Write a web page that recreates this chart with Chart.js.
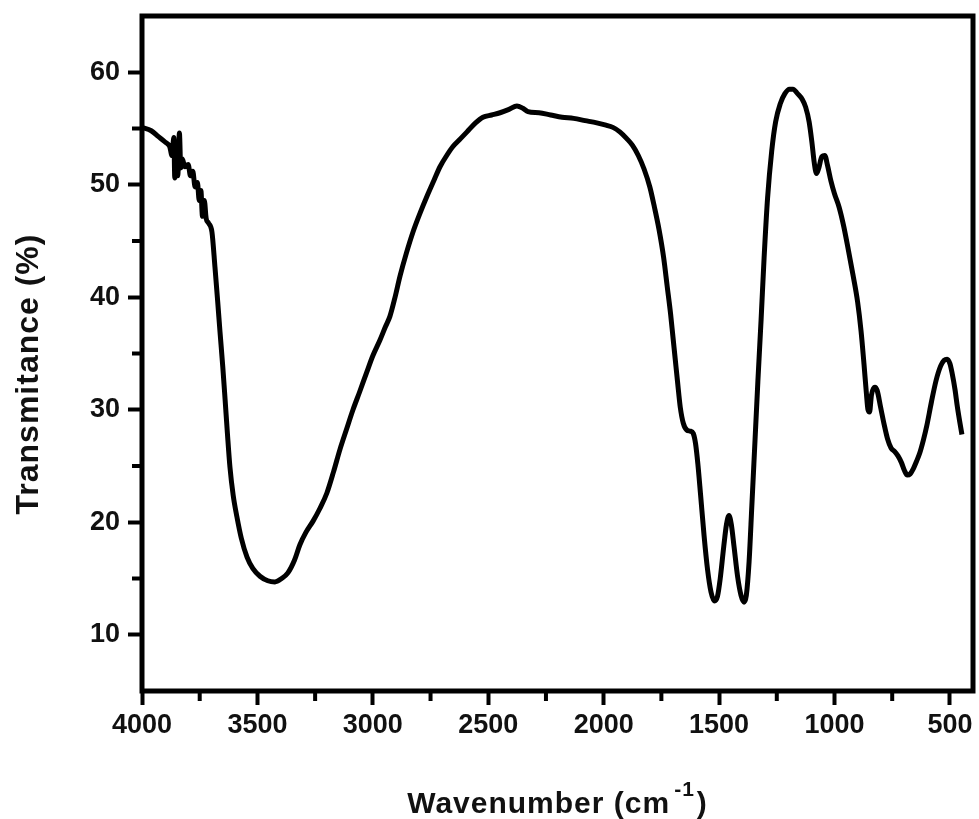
<!DOCTYPE html>
<html>
<head>
<meta charset="utf-8">
<script src="https://cdn.jsdelivr.net/npm/chart.js@4"></script>
<style>
  body { margin: 0; background: #fff; }
  #wrap { width: 979px; height: 819px; }
</style>
</head>
<body>
<div id="wrap"><canvas id="ftir" width="979" height="819"></canvas></div>
<script>
// FTIR spectrum
const wavenumber = [
  4000, 3960, 3930, 3900, 3880, 3870, 3862, 3858, 3852, 3845, 3838, 3832, 3825, 3815, 3800,
  3790, 3780, 3770, 3760, 3752, 3745, 3738, 3730, 3722, 3712, 3697, 3684, 3672, 3662, 3650,
  3640, 3630, 3619, 3605, 3589, 3570, 3545, 3520, 3489, 3455, 3424, 3395, 3368, 3340, 3316,
  3290, 3259, 3230, 3199, 3170, 3142, 3115, 3086, 3057, 3027, 3000, 2969, 2945, 2926, 2905,
  2882, 2855, 2826, 2795, 2765, 2735, 2709, 2680, 2653, 2620, 2592, 2555, 2523, 2485, 2449,
  2410, 2376, 2350, 2328, 2280, 2230, 2180, 2130, 2080, 2030, 1990, 1960, 1930, 1900, 1875,
  1850, 1825, 1800, 1780, 1760, 1740, 1725, 1710, 1700, 1690, 1680, 1668, 1655, 1640, 1625,
  1612, 1602, 1592, 1580, 1565, 1550, 1535, 1520, 1507, 1495, 1480, 1468, 1457, 1447, 1435,
  1420, 1405, 1392, 1382, 1370, 1358, 1345, 1332, 1318, 1305, 1290, 1272, 1255, 1235, 1215,
  1195, 1180, 1160, 1140, 1125, 1110, 1098, 1088, 1078, 1068, 1055, 1042, 1030, 1015, 1000,
  980, 960, 940, 920, 900, 885, 872, 862, 855, 848, 840, 825, 815, 800, 785,
  770, 755, 740, 725, 710, 697, 685, 672, 660, 645, 630, 615, 600, 580, 560,
  540, 525, 512, 500, 490, 478, 468, 458, 448
];
const transmittance = [
  55.1, 54.8, 54.3, 53.8, 53.4, 52.6, 54.2, 50.6, 53.5, 50.8, 54.6, 51.5, 52.3, 51.6, 51.8,
  50.8, 51.2, 49.8, 50.2, 48.6, 49.5, 47.2, 48.6, 47.0, 46.6, 45.8, 42.7, 39.6, 36.9, 33.8,
  30.9, 27.9, 24.9, 22.4, 20.5, 18.6, 16.9, 15.9, 15.2, 14.8, 14.7, 15.0, 15.5, 16.6, 18.0,
  19.1, 20.1, 21.2, 22.6, 24.5, 26.5, 28.2, 30.0, 31.6, 33.3, 34.8, 36.2, 37.4, 38.3, 39.9,
  41.9, 43.9, 45.8, 47.5, 49.0, 50.4, 51.6, 52.6, 53.4, 54.1, 54.7, 55.5, 56.0, 56.2, 56.4,
  56.7, 57.0, 56.8, 56.5, 56.4, 56.2, 56.0, 55.9, 55.7, 55.5, 55.3, 55.1, 54.7, 54.1, 53.5,
  52.6, 51.4, 49.8, 48.0, 46.0, 43.5, 41.0, 38.5, 36.5, 34.5, 32.5, 30.2, 28.8, 28.2, 28.1,
  27.9, 27.0, 25.2, 22.4, 18.8, 15.8, 13.8, 13.0, 13.4, 15.0, 17.8, 19.8, 20.6, 19.8, 17.8,
  15.2, 13.5, 12.9, 13.5, 16.5, 21.5, 27.0, 32.5, 38.0, 43.5, 48.8, 53.0, 55.6, 57.2, 58.1,
  58.5, 58.5, 58.1, 57.6, 56.9, 55.6, 53.8, 52.0, 51.0, 51.5, 52.5, 52.6, 51.7, 50.3, 49.2,
  48.0, 46.3, 44.2, 42.0, 39.6, 37.0, 34.0, 31.5, 30.0, 29.8, 31.3, 32.0, 31.7, 30.2, 28.7,
  27.4, 26.6, 26.3, 25.9, 25.3, 24.6, 24.2, 24.3, 24.7, 25.4, 26.2, 27.3, 28.6, 30.7, 32.6,
  33.9, 34.4, 34.5, 34.1, 33.2, 31.8, 30.3, 29.0, 27.8
];

const xTicks = [4000, 3500, 3000, 2500, 2000, 1500, 1000, 500];
const xMinor = [3750, 3250, 2750, 2250, 1750, 1250, 750];
const yTicks = [10, 20, 30, 40, 50, 60];
const yMinor = [15, 25, 35, 45, 55];

const xTitle = 'Wavenumber (cm';
const xTitleSup = '-1';
const yTitle = 'Transmitance (%)';

const FONT = '"Liberation Sans", Arial, sans-serif';

const points = wavenumber.map((w, i) => ({ x: w, y: transmittance[i] }));

const framePlugin = {
  id: 'frame',
  afterDraw(chart) {
    const { ctx, chartArea: a, scales: { x, y } } = chart;
    ctx.save();
    ctx.strokeStyle = '#000';
    ctx.lineWidth = 5;
    ctx.strokeRect(a.left, a.top, a.right - a.left, a.bottom - a.top);

    // minor ticks
    ctx.lineWidth = 4;
    ctx.beginPath();
    xMinor.forEach(v => {
      const px = x.getPixelForValue(v);
      ctx.moveTo(px, a.bottom);
      ctx.lineTo(px, a.bottom + 10);
    });
    yMinor.forEach(v => {
      const py = y.getPixelForValue(v);
      ctx.moveTo(a.left, py);
      ctx.lineTo(a.left - 10, py);
    });
    ctx.stroke();

    ctx.fillStyle = '#111';
    ctx.letterSpacing = '1px';

    // y title
    ctx.save();
    ctx.translate(29, 374);
    ctx.rotate(-Math.PI / 2);
    ctx.font = 'bold 32px ' + FONT;
    ctx.textAlign = 'center';
    ctx.textBaseline = 'middle';
    ctx.fillText(yTitle, 0, 0);
    ctx.restore();

    // x title with superscript
    const big = 'bold 30px ' + FONT;
    const small = 'bold 21px ' + FONT;
    ctx.textBaseline = 'alphabetic';
    ctx.textAlign = 'left';
    ctx.font = big;
    const w1 = ctx.measureText(xTitle).width;
    const w3 = ctx.measureText(')').width;
    ctx.font = small;
    const w2 = ctx.measureText(xTitleSup).width;
    const total = w1 + 4 + w2 + 2 + w3;
    let cx = (a.left + a.right) / 2 - total / 2;
    const base = 813;
    ctx.font = big;
    ctx.fillText(xTitle, cx, base);
    cx += w1 + 4;
    ctx.font = small;
    ctx.fillText(xTitleSup, cx, base - 17);
    cx += w2 + 2;
    ctx.font = big;
    ctx.fillText(')', cx, base);
    ctx.restore();
  }
};

const tickGrid = {
  drawOnChartArea: false,
  drawTicks: true,
  tickLength: 14,
  tickWidth: 4,
  tickColor: '#000'
};

new Chart(document.getElementById('ftir').getContext('2d'), {
  type: 'line',
  data: {
    datasets: [{
      data: points,
      borderColor: '#000',
      borderWidth: 5,
      pointRadius: 0,
      fill: false,
      cubicInterpolationMode: 'monotone'
    }]
  },
  options: {
    responsive: false,
    animation: false,
    layout: { padding: { top: 16, right: 6, left: 0, bottom: 0 } },
    plugins: {
      legend: { display: false },
      tooltip: { enabled: false }
    },
    scales: {
      x: {
        type: 'linear',
        reverse: true,
        min: 400,
        max: 4000,
        border: { display: false },
        grid: tickGrid,
        afterBuildTicks: s => { s.ticks = xTicks.map(v => ({ value: v })); },
        afterFit: s => { s.height = 128; s.paddingLeft = 0; s.paddingRight = 0; },
        ticks: {
          color: '#111',
          padding: 4,
          maxRotation: 0,
          callback: v => String(v),
          font: { family: FONT, size: 27, weight: 'bold' }
        }
      },
      y: {
        min: 5,
        max: 65,
        border: { display: false },
        grid: tickGrid,
        afterBuildTicks: s => { s.ticks = yTicks.map(v => ({ value: v })); },
        afterFit: s => { s.width = 142; s.paddingTop = 0; s.paddingBottom = 0; },
        ticks: {
          color: '#111',
          padding: 8,
          callback: v => String(v),
          font: { family: FONT, size: 27, weight: 'bold' }
        }
      }
    }
  },
  plugins: [framePlugin]
});
</script>
</body>
</html>
